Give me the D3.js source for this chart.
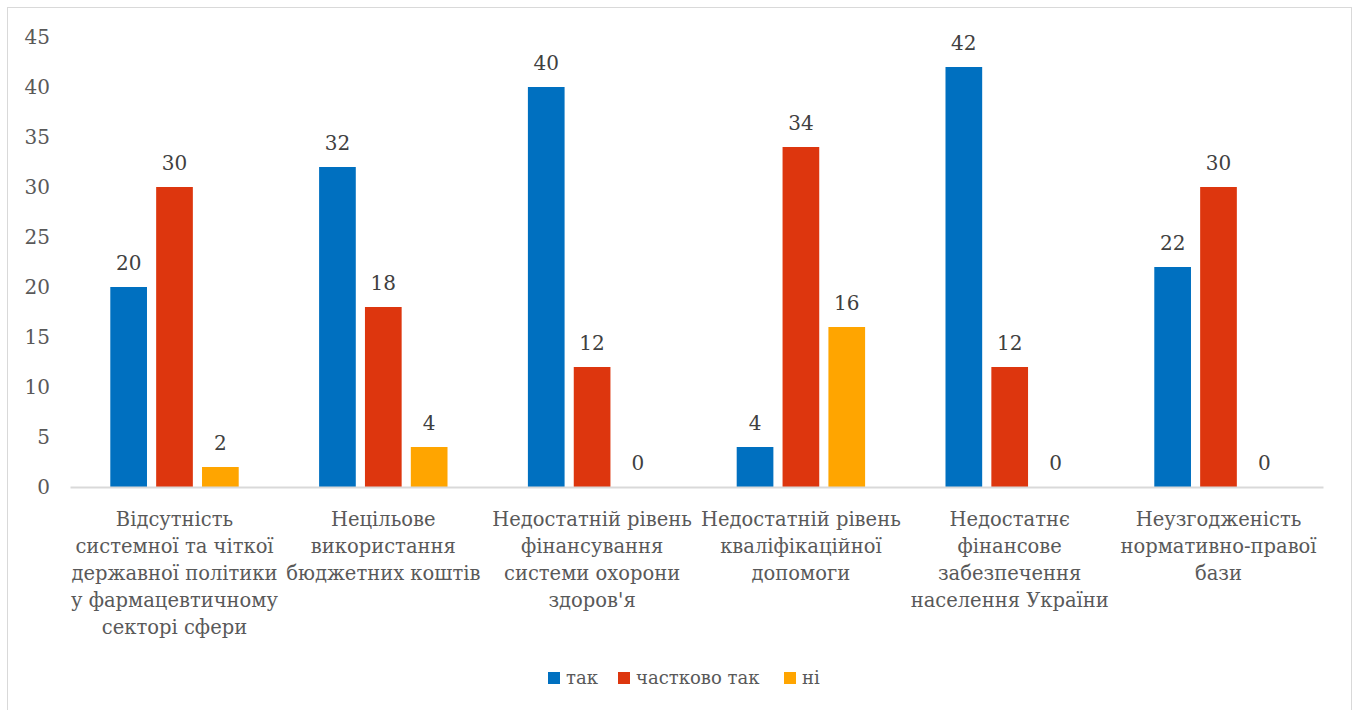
<!DOCTYPE html>
<html>
<head>
<meta charset="utf-8">
<script src="https://cdn.jsdelivr.net/npm/d3@7"></script>
<style>
  body { margin: 0; background: #fff; }
</style>
</head>
<body>
<div id="wrapper"></div>
<script>
// categories (already wrapped as in the original)
const categories = [
    ["Відсутність", "системної та чіткої", "державної політики", "у фармацевтичному", "секторі сфери"],
    ["Нецільове", "використання", "бюджетних коштів"],
    ["Недостатній рівень", "фінансування", "системи охорони", "здоров'я"],
    ["Недостатній рівень", "кваліфікаційної", "допомоги"],
    ["Недостатнє", "фінансове", "забезпечення", "населення України"],
    ["Неузгодженість", "нормативно-правої", "бази"]
]
const seriesNames = ["так", "частково так", "ні"]
const tak = [20, 32, 40, 4, 42, 22]
const chastkovo = [30, 18, 12, 34, 12, 30]
const ni = [2, 4, 0, 16, 0, 0]
const yTicks = [0, 5, 10, 15, 20, 25, 30, 35, 40, 45]
const colors = ["#0070c0", "#dd360e", "#ffa500"]
const fontFamily = "'DejaVu Serif', 'Liberation Serif', serif"

function drawBarChart() {
    const series = [tak, chastkovo, ni]
    let dimensions = {
        width: 1356,
        height: 710,
        margin: { top: 37, right: 33, bottom: 223, left: 70 },
    }
    dimensions.boundedWidth = dimensions.width - dimensions.margin.left - dimensions.margin.right
    dimensions.boundedHeight = dimensions.height - dimensions.margin.top - dimensions.margin.bottom

    const wrapper = d3.select("#wrapper")
        .append("svg")
            .attr("width", dimensions.width)
            .attr("height", dimensions.height)

    // outer frame
    wrapper.append("rect")
        .attr("x", 7.5).attr("y", 7.5)
        .attr("width", 1344).attr("height", 710)
        .attr("fill", "#fff")
        .attr("stroke", "#d9d9d9")

    const bounds = wrapper.append("g")
        .attr("transform", `translate(${dimensions.margin.left},${dimensions.margin.top})`)

    const xScale = d3.scaleBand()
        .domain(d3.range(categories.length))
        .range([0, dimensions.boundedWidth])
        .paddingInner(0.385)
        .paddingOuter(0.193)
    const xInner = d3.scaleBand()
        .domain(d3.range(seriesNames.length))
        .range([0, xScale.bandwidth()])
        .paddingInner(0.2)

    const yScale = d3.scaleLinear()
        .domain([0, 45])
        .range([dimensions.boundedHeight, 0])

    // y axis labels
    const yAxis = bounds.append("g")
        .call(d3.axisLeft(yScale).tickValues(yTicks).tickSize(0).tickPadding(20))
    yAxis.select(".domain").remove()
    yAxis.selectAll("text")
        .attr("fill", "#595959")
        .style("font-family", fontFamily)
        .style("font-size", "20px")

    // bars
    const groups = bounds.selectAll(".series")
        .data(series)
        .join("g")
            .attr("fill", (d, i) => colors[i])
    groups.each(function(values, si) {
        const g = d3.select(this)
        g.selectAll("rect")
            .data(values)
            .join("rect")
                .attr("x", (d, ci) => xScale(ci) + xInner(si))
                .attr("width", xInner.bandwidth())
                .attr("y", d => yScale(d))
                .attr("height", d => yScale(0) - yScale(d))
        g.selectAll("text")
            .data(values)
            .join("text")
                .attr("x", (d, ci) => xScale(ci) + xInner(si) + xInner.bandwidth() / 2)
                .attr("y", d => yScale(d) - 17)
                .attr("text-anchor", "middle")
                .attr("fill", "#404040")
                .style("font-family", fontFamily)
                .style("font-size", "20px")
                .text(d => d)
    })

    // x axis
    const xAxis = bounds.append("g")
        .attr("transform", `translate(0,${dimensions.boundedHeight})`)
        .call(d3.axisBottom(xScale).tickSize(0).tickFormat(""))
    xAxis.select(".domain").attr("stroke", "#d9d9d9").attr("stroke-width", 2)

    xAxis.selectAll(".tick").each(function(ci) {
        const t = d3.select(this).append("text")
            .attr("text-anchor", "middle")
            .attr("fill", "#595959")
            .style("font-family", fontFamily)
            .style("font-size", "19.5px")
        categories[ci].forEach((line, li) => {
            t.append("tspan")
                .attr("x", 0)
                .attr("y", 39 + li * 27)
                .text(line)
        })
    })

    // legend
    const legendX = [548, 618, 784]
    const legend = wrapper.append("g")
        .selectAll("g")
        .data(seriesNames)
        .join("g")
            .attr("transform", (d, i) => `translate(${legendX[i]},672)`)
    legend.append("rect")
        .attr("width", 12).attr("height", 12)
        .attr("fill", (d, i) => colors[i])
    legend.append("text")
        .attr("x", 18).attr("y", 12)
        .attr("fill", "#595959")
        .style("font-family", fontFamily)
        .style("font-size", "18px")
        .text(d => d)
}
drawBarChart()
</script>
</body>
</html>
